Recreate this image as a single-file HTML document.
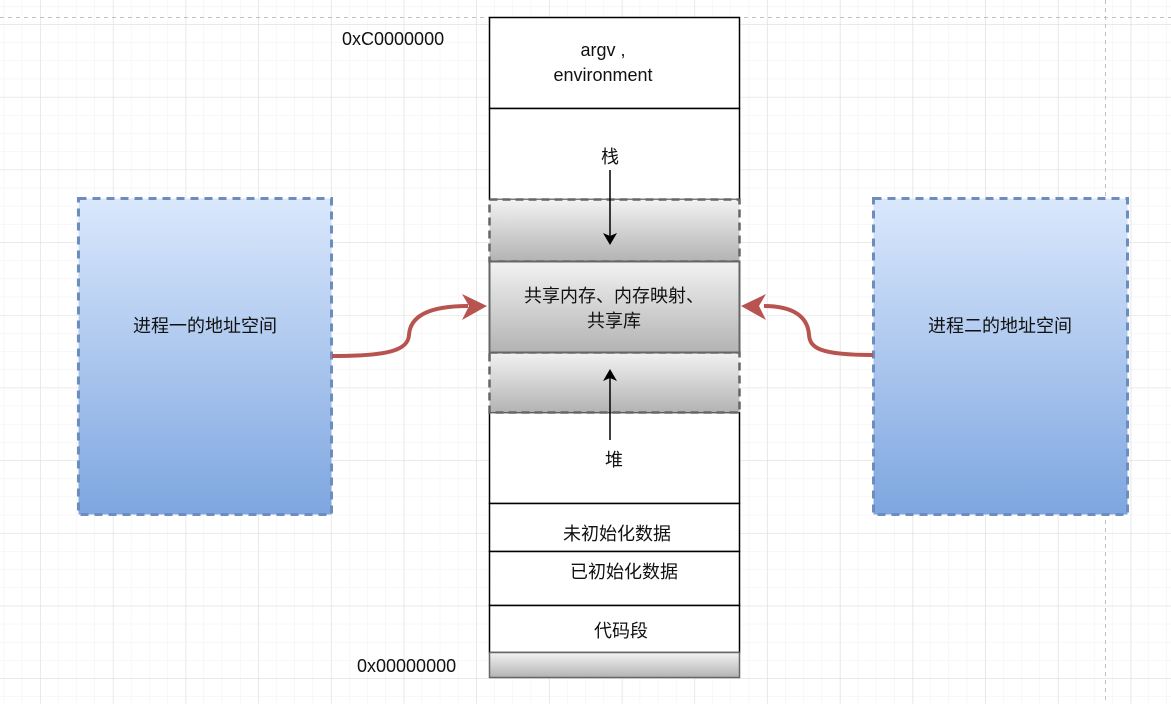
<!DOCTYPE html>
<html><head><meta charset="utf-8"><style>
body{margin:0;background:#fff}
svg text{font-family:"Liberation Sans","Noto Sans CJK SC",sans-serif;font-size:18px;fill:#111}
</style></head><body>
<svg width="1171" height="704" xmlns="http://www.w3.org/2000/svg">
<defs>
<pattern id="minor" width="18.17" height="18.17" patternUnits="userSpaceOnUse" x="3.7" y="6">
<path d="M0 0H18.17M0 0V18.17" stroke="#f0f0f0" stroke-width="1" fill="none"/></pattern>
<pattern id="major" width="72.7" height="72.7" patternUnits="userSpaceOnUse" x="40.3" y="24.2">
<path d="M0 0H72.7M0 0V72.7" stroke="#dcdcdc" stroke-width="1" fill="none"/></pattern>
<linearGradient id="blue" x1="0" y1="0" x2="0" y2="1"><stop offset="0" stop-color="#dae8fc"/><stop offset="1" stop-color="#7ea6e0"/></linearGradient>
<linearGradient id="gray" x1="0" y1="0" x2="0" y2="1"><stop offset="0" stop-color="#f2f2f2"/><stop offset="1" stop-color="#b3b3b3"/></linearGradient>
</defs>
<rect width="1171" height="704" fill="url(#minor)"/>
<rect width="1171" height="704" fill="url(#major)"/>
<line x1="0" y1="17.5" x2="1171" y2="17.5" stroke="#c0c0c0" stroke-dasharray="4 4"/>
<line x1="1105.5" y1="0" x2="1105.5" y2="704" stroke="#c0c0c0" stroke-dasharray="4 4"/>

<g stroke="#000" stroke-width="1.5" fill="#fff">
<rect x="489.5" y="17.5" width="250" height="91"/>
<rect x="489.5" y="108.5" width="250" height="91"/>
<rect x="489.5" y="412.5" width="250" height="91"/>
<rect x="489.5" y="503.5" width="250" height="48"/>
<rect x="489.5" y="551.5" width="250" height="54"/>
<rect x="489.5" y="605.5" width="250" height="47"/>
</g>
<rect x="489.5" y="199.5" width="250" height="62" fill="url(#gray)" stroke="#666" stroke-width="2.5" stroke-dasharray="8 5"/>
<rect x="489.5" y="352.5" width="250" height="60" fill="url(#gray)" stroke="#666" stroke-width="2.5" stroke-dasharray="8 5"/>
<rect x="489.5" y="261.5" width="250" height="91" fill="url(#gray)" stroke="#666" stroke-width="2"/>
<rect x="489.5" y="652.5" width="250" height="25" fill="url(#gray)" stroke="#666" stroke-width="1.5"/>

<line x1="610" y1="170" x2="610" y2="236" stroke="#000" stroke-width="1.5"/>
<polygon points="603,233 610,245 617,233 610,236" fill="#000"/>
<line x1="610" y1="440" x2="610" y2="378" stroke="#000" stroke-width="1.5"/>
<polygon points="603,381 610,369 617,381 610,378" fill="#000"/>

<rect x="78.5" y="198.5" width="253" height="316" fill="url(#blue)" stroke="#6c8ebf" stroke-width="3" stroke-dasharray="8 6"/>
<rect x="873.5" y="198.5" width="254" height="316" fill="url(#blue)" stroke="#6c8ebf" stroke-width="3" stroke-dasharray="8 6"/>

<path d="M332 356 C390 356 408 350 409 335 C410 318 425 306 468 306" fill="none" stroke="#b85450" stroke-width="4"/>
<polygon points="462,294 487,306 462,320 469,306" fill="#b85450"/>
<path d="M873 355 C820 355 810 348 809 335 C808 318 795 306 764 306" fill="none" stroke="#b85450" stroke-width="4"/>
<polygon points="766,294 741,306 766,320 759,306" fill="#b85450"/>

<text x="342" y="45">0xC0000000</text>
<text x="357" y="672">0x00000000</text>
<text x="603" y="56" text-anchor="middle">argv ,</text>
<text x="603" y="81" text-anchor="middle">environment</text>
<text x="610" y="163" text-anchor="middle">栈</text>
<text x="614" y="302" text-anchor="middle">共享内存、内存映射、</text>
<text x="614" y="327" text-anchor="middle">共享库</text>
<text x="614" y="466" text-anchor="middle">堆</text>
<text x="617" y="540" text-anchor="middle">未初始化数据</text>
<text x="624" y="578" text-anchor="middle">已初始化数据</text>
<text x="621" y="637" text-anchor="middle">代码段</text>
<text x="205" y="332" text-anchor="middle">进程一的地址空间</text>
<text x="1000" y="332" text-anchor="middle">进程二的地址空间</text>
</svg>
</body></html>
